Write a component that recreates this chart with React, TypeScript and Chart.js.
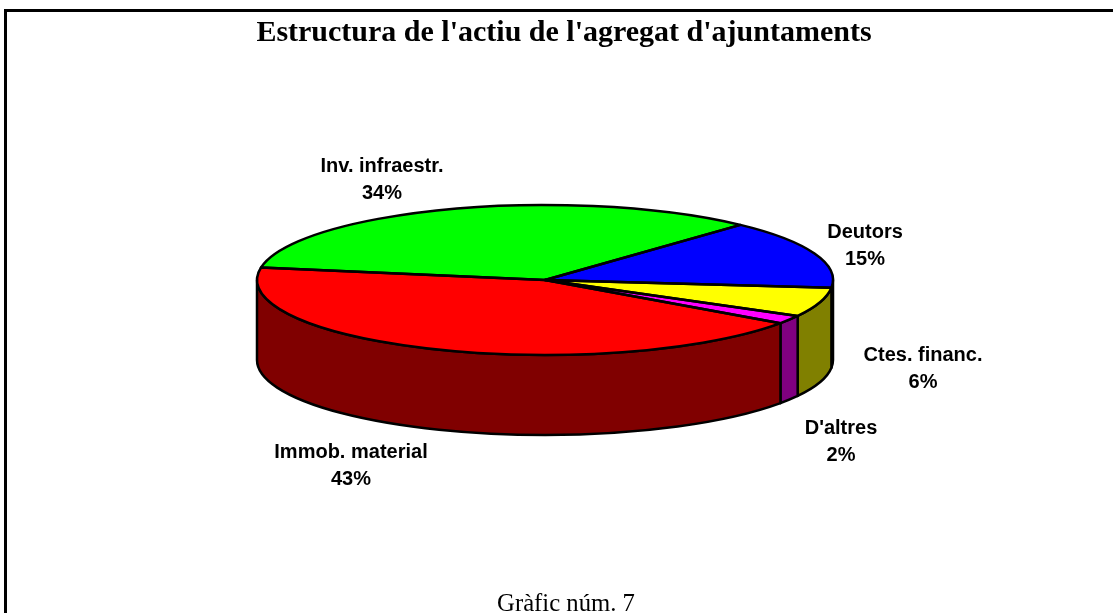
import React, { useEffect, useRef } from "react";
import { Chart, registerables } from "chart.js";

Chart.register(...registerables);

const titleText = "Estructura de l'actiu de l'agregat d'ajuntaments";
const footerText = "Gràfic núm. 7";
const categories = ["Inv. infraestr.", "Deutors", "Ctes. financ.", "D'altres", "Immob. material"];
const shares = [34.2, 14.8, 6.3, 1.8, 42.9];
const topColors = ["#00ff00", "#0000ff", "#ffff00", "#ff00ff", "#ff0000"];
const sideColors = ["#008000", "#000080", "#808000", "#800080", "#800000"];

// Page geometry of the tilted pie
const CANVAS_LEFT = 4;
const RADIUS_X = 288;
const CENTER_Y = 280;
const RADIUS_Y = 75;
const DEPTH = 80;
const LINE_WIDTH = 2.5;
// Centre of each label's first line, in canvas pixels
const labelAnchors = [
  [378, 166],
  [861, 232],
  [919, 355],
  [837, 428],
  [347, 452],
];
const LABEL_LINE = 27;
const TITLE_POS = [560, 33];
const FOOTER_POS = [562, 605];

const TAU = Math.PI * 2;

const pie3d = {
  id: "pie3d",
  beforeDatasetsDraw(chart: any) {
    const { ctx } = chart;
    const arcs = chart.getDatasetMeta(0).data;
    ctx.save();
    ctx.lineWidth = LINE_WIDTH;
    ctx.strokeStyle = "#000";
    ctx.lineJoin = "round";
    arcs.forEach((arc: any, i: number) => {
      const { x, startAngle, endAngle } = arc.getProps(["x", "startAngle", "endAngle"]);
      let a = startAngle % TAU;
      if (a < 0) a += TAU;
      const b = a + (endAngle - startAngle);
      const ranges = [
        [Math.max(a, 0), Math.min(b, Math.PI)],
        [Math.max(a, TAU), Math.min(b, TAU + Math.PI)],
      ];
      ranges.forEach(([s, e]) => {
        if (e <= s) return;
        ctx.beginPath();
        ctx.ellipse(x, CENTER_Y, RADIUS_X, RADIUS_Y, 0, s, e);
        ctx.lineTo(x + RADIUS_X * Math.cos(e), CENTER_Y + DEPTH + RADIUS_Y * Math.sin(e));
        ctx.ellipse(x, CENTER_Y + DEPTH, RADIUS_X, RADIUS_Y, 0, e, s, true);
        ctx.closePath();
        ctx.fillStyle = sideColors[i];
        ctx.fill();
        ctx.stroke();
      });
    });
    ctx.restore();

    const first = arcs[0];
    const k = RADIUS_Y / RADIUS_X;
    ctx.save();
    ctx.translate(0, CENTER_Y);
    ctx.scale(1, k);
    ctx.translate(0, -first.y);
  },
  afterDatasetsDraw(chart: any) {
    const { ctx } = chart;
    ctx.restore();
    const arcs = chart.getDatasetMeta(0).data;
    ctx.save();
    ctx.lineWidth = LINE_WIDTH;
    ctx.strokeStyle = "#000";
    ctx.lineJoin = "round";
    arcs.forEach((arc: any) => {
      const { x, startAngle, endAngle } = arc.getProps(["x", "startAngle", "endAngle"]);
      ctx.beginPath();
      ctx.moveTo(x, CENTER_Y);
      ctx.ellipse(x, CENTER_Y, RADIUS_X, RADIUS_Y, 0, startAngle, endAngle);
      ctx.closePath();
      ctx.stroke();
    });

    ctx.fillStyle = "#000";
    ctx.textAlign = "center";
    ctx.textBaseline = "middle";
    ctx.font = "bold 20px 'Liberation Sans'";
    const total = shares.reduce((s, v) => s + v, 0);
    categories.forEach((name, i) => {
      const [lx, ly] = labelAnchors[i];
      ctx.fillText(name, lx, ly);
      ctx.fillText(`${Math.round((shares[i] / total) * 100)}%`, lx, ly + LABEL_LINE);
    });
    ctx.font = "bold 30px 'Liberation Serif'";
    ctx.fillText(titleText, TITLE_POS[0], TITLE_POS[1]);
    ctx.font = "24.7px 'Liberation Serif'";
    ctx.fillText(footerText, FOOTER_POS[0], FOOTER_POS[1]);
    ctx.restore();
  },
};

export default function App() {
  const ref = useRef<HTMLCanvasElement>(null);
  useEffect(() => {
    const chart = new Chart(ref.current as HTMLCanvasElement, {
      type: "pie",
      data: {
        labels: categories,
        datasets: [
          {
            data: shares,
            backgroundColor: topColors,
            borderWidth: 0,
            radius: RADIUS_X,
          } as any,
        ],
      },
      options: {
        responsive: false,
        animation: false,
        rotation: 279.6,
        layout: { padding: { right: 38 } },
        plugins: {
          legend: { display: false },
          tooltip: { enabled: false },
          title: { display: false },
        },
      },
      plugins: [pie3d],
    } as any);
    return () => chart.destroy();
  }, []);

  return (
    <div style={{ position: "fixed", inset: 0, overflow: "hidden", background: "#fff" }}>
      <div
        style={{
          position: "absolute",
          left: 4,
          top: 9,
          right: 0,
          bottom: 0,
          borderTop: "3px solid #000",
          borderLeft: "3px solid #000",
        }}
      />
      <canvas
        ref={ref}
        width={1120}
        height={613}
        style={{ position: "absolute", left: CANVAS_LEFT, top: 0, display: "block" }}
      />
    </div>
  );
}
